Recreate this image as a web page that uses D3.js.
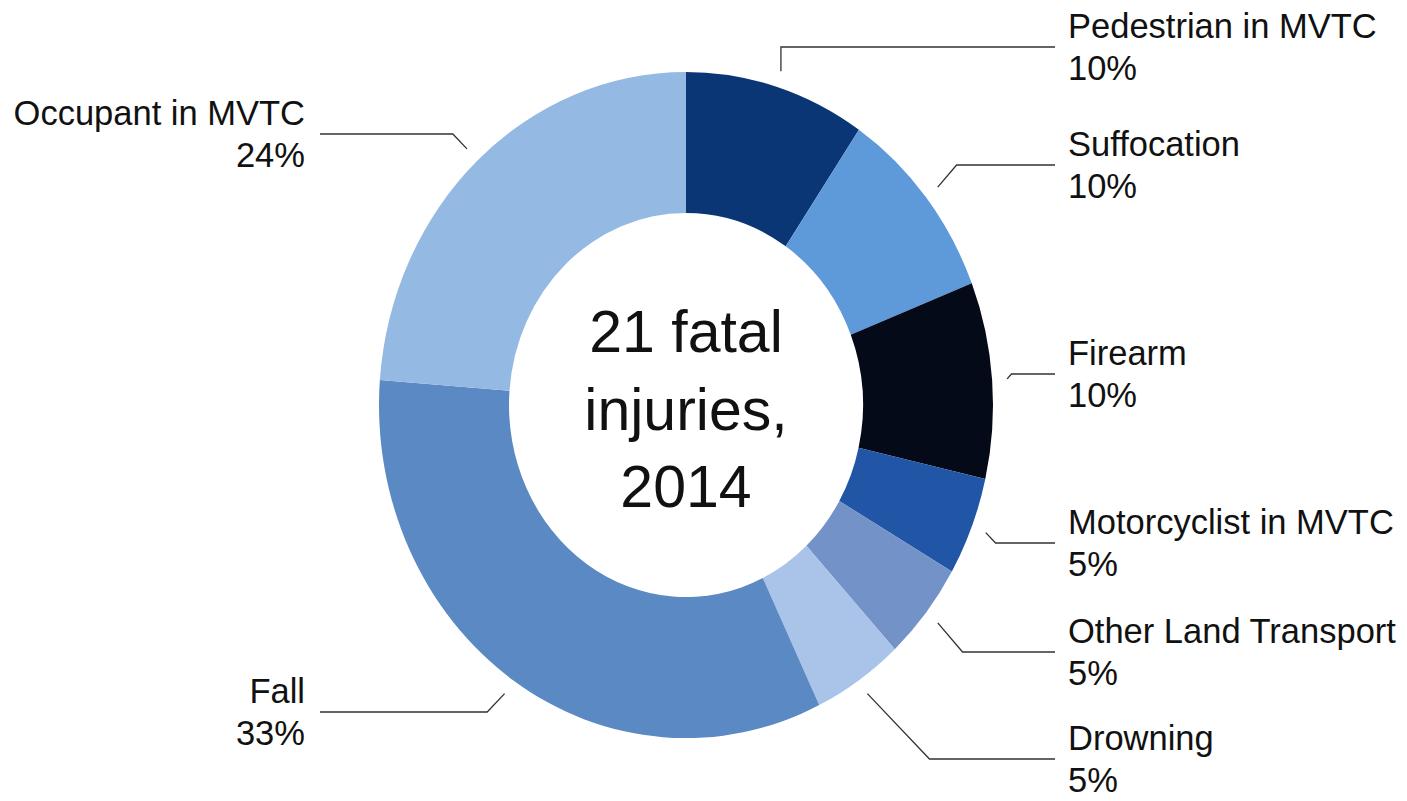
<!DOCTYPE html>
<html>
<head>
<meta charset="utf-8">
<script src="https://cdn.jsdelivr.net/npm/d3@7"></script>
<style>
  html, body { margin: 0; padding: 0; background: #fff; }
  svg text { font-family: "Liberation Sans", Arial, Helvetica, sans-serif; fill: #111; }
</style>
</head>
<body>
<div id="chart"></div>
<script>
// Chart data
const categories = ["Pedestrian in MVTC", "Suffocation", "Firearm", "Motorcyclist in MVTC",
  "Other Land Transport", "Drowning", "Fall", "Occupant in MVTC"];
const deaths = [2, 2, 2, 1, 1, 1, 7, 5];
const percentLabels = ["10%", "10%", "10%", "5%", "5%", "5%", "33%", "24%"];
const centerLines = ["21 fatal", "injuries,", "2014"];

// Layout (not data): colors and where each leader line runs horizontally
const colors = ["#0b3676", "#5e9ad9", "#040a18", "#2156a6", "#7392c8", "#a9c4e8", "#5a89c3", "#94bae4"];
const leaderY = [47, 165, 374, 543, 652, 759, 712, 134];
const leaderSlant = [0, 0.85, 0.9, 0.95, 0.85, 0.95, 0.95, 0.95];

const width = 1407, height = 801;
const cx = 686, cy = 405;
const stretchY = 1.085;        // the donut is a little taller than wide
const outerR = 307, innerR = 177, leaderR = 322;

const svg = d3.select("#chart")
  .append("svg")
  .attr("width", width)
  .attr("height", height);

const pie = d3.pie().sort(null).value(d => d)(deaths);
const arc = d3.arc().innerRadius(innerR).outerRadius(outerR);
const leaderArc = d3.arc().innerRadius(leaderR).outerRadius(leaderR);

// Donut slices
svg.append("g")
  .attr("transform", `translate(${cx},${cy}) scale(1,${stretchY})`)
  .selectAll("path")
  .data(pie)
  .join("path")
  .attr("d", arc)
  .attr("fill", (d, i) => colors[i]);

// Leader lines + labels
const labels = svg.append("g");
pie.forEach((d, i) => {
  const [px, py] = leaderArc.centroid(d);
  const sx = cx + px, sy = cy + py * stretchY;
  const mid = (d.startAngle + d.endAngle) / 2;
  const right = mid < Math.PI;
  const ly = leaderY[i];
  const ex = sx + (right ? 1 : -1) * Math.abs(ly - sy) * leaderSlant[i];
  const endX = right ? 1055 : 320;

  labels.append("path")
    .attr("d", d3.line()([[sx, sy], [ex, ly], [endX, ly]]))
    .attr("fill", "none")
    .attr("stroke", "#333")
    .attr("stroke-width", 1.3);

  const tx = right ? 1068 : 305;
  const t = labels.append("text")
    .attr("x", tx)
    .attr("y", ly - 9)
    .attr("text-anchor", right ? "start" : "end")
    .attr("font-size", 34.5);
  t.append("tspan").attr("x", tx).text(categories[i]);
  t.append("tspan").attr("x", tx).attr("dy", 42).text(percentLabels[i]);
});

// Centre caption
svg.append("text")
  .attr("text-anchor", "middle")
  .attr("font-size", 59)
  .selectAll("tspan")
  .data(centerLines)
  .join("tspan")
  .attr("x", cx)
  .attr("y", (d, i) => 352 + i * 77.5)
  .text(d => d);
</script>
</body>
</html>
